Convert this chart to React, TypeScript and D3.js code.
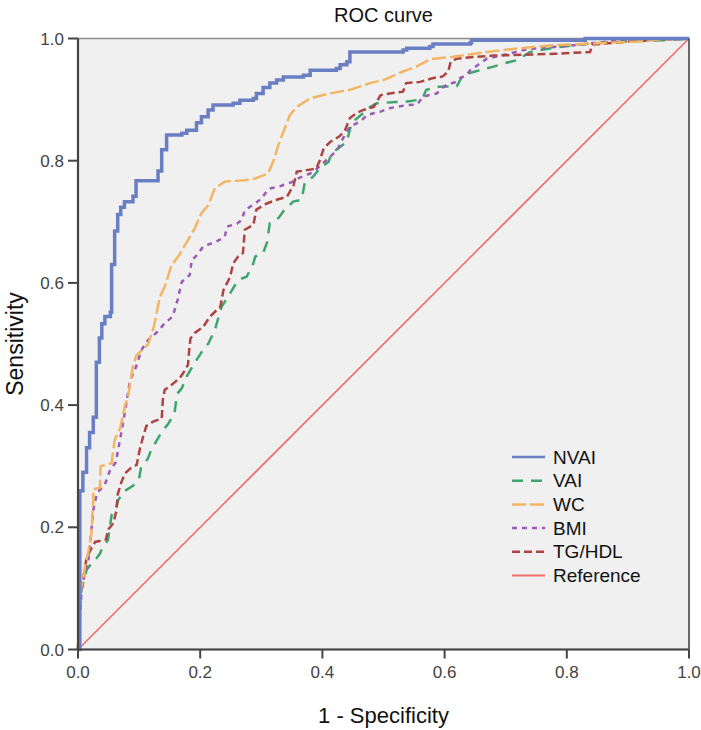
import React from "react";
import * as d3 from "d3";

// ---- data ----
const title = "ROC curve";
const xTitle = "1 - Specificity";
const yTitle = "Sensitivity";
const tickValues = [0, 0.2, 0.4, 0.6, 0.8, 1.0];

// NVAI ROC points (fpr, tpr), stepped
const nvai: [number, number][] = [
  [0, 0], [0.003, 0.26], [0.008, 0.29], [0.014, 0.33], [0.019, 0.355], [0.025, 0.38],
  [0.030, 0.47], [0.035, 0.51], [0.039, 0.533], [0.044, 0.545], [0.053, 0.552],
  [0.055, 0.63], [0.060, 0.685], [0.065, 0.712], [0.070, 0.724], [0.076, 0.733],
  [0.090, 0.742], [0.095, 0.767], [0.131, 0.783], [0.137, 0.818], [0.145, 0.842],
  [0.170, 0.845], [0.178, 0.850], [0.194, 0.862], [0.202, 0.872], [0.213, 0.883],
  [0.221, 0.891], [0.254, 0.894], [0.265, 0.899], [0.287, 0.902], [0.292, 0.910],
  [0.303, 0.920], [0.314, 0.927], [0.325, 0.932], [0.336, 0.937], [0.369, 0.940],
  [0.380, 0.948], [0.423, 0.951], [0.429, 0.957], [0.440, 0.962], [0.445, 0.978],
  [0.532, 0.981], [0.538, 0.984], [0.576, 0.987], [0.581, 0.991], [0.642, 0.993],
  [0.644, 0.997], [0.830, 1.0], [1.0, 1.0],
];

const vai: [number, number][] = [
  [0, 0], [0.002, 0.04], [0.003, 0.065], [0.006, 0.10], [0.014, 0.13], [0.022, 0.141],
  [0.030, 0.149], [0.036, 0.157], [0.039, 0.165], [0.049, 0.179], [0.055, 0.22],
  [0.061, 0.228], [0.066, 0.245], [0.077, 0.26], [0.09, 0.268], [0.1, 0.28],
  [0.103, 0.297], [0.114, 0.312], [0.12, 0.327], [0.137, 0.356], [0.148, 0.37],
  [0.158, 0.387], [0.162, 0.418], [0.17, 0.428], [0.178, 0.447], [0.19, 0.468],
  [0.2, 0.483], [0.208, 0.496], [0.213, 0.5], [0.224, 0.523], [0.235, 0.561],
  [0.249, 0.583], [0.262, 0.605], [0.276, 0.61], [0.287, 0.632], [0.29, 0.643],
  [0.303, 0.649], [0.309, 0.665], [0.314, 0.698], [0.328, 0.706], [0.336, 0.717],
  [0.352, 0.733], [0.366, 0.736], [0.371, 0.763], [0.385, 0.774], [0.396, 0.788],
  [0.41, 0.798], [0.415, 0.812], [0.431, 0.824], [0.44, 0.831], [0.444, 0.847],
  [0.448, 0.862], [0.467, 0.878], [0.478, 0.888], [0.489, 0.894], [0.52, 0.896],
  [0.54, 0.897], [0.56, 0.90], [0.565, 0.905], [0.57, 0.916], [0.59, 0.921],
  [0.62, 0.922], [0.63, 0.94], [0.65, 0.946], [0.68, 0.954], [0.70, 0.96],
  [0.72, 0.965], [0.74, 0.978], [0.78, 0.985], [0.82, 0.99], [0.87, 0.994],
  [0.92, 0.996], [0.96, 0.997], [1, 1],
];

const wc: [number, number][] = [
  [0, 0], [0.002, 0.06], [0.005, 0.10], [0.01, 0.125], [0.012, 0.14], [0.017, 0.16],
  [0.022, 0.19], [0.025, 0.245], [0.025, 0.262], [0.036, 0.265], [0.037, 0.30],
  [0.055, 0.305], [0.060, 0.343], [0.069, 0.362], [0.077, 0.40], [0.082, 0.414],
  [0.090, 0.465], [0.096, 0.482], [0.105, 0.490], [0.115, 0.50], [0.124, 0.528],
  [0.134, 0.577], [0.142, 0.594], [0.153, 0.629], [0.164, 0.643], [0.180, 0.67],
  [0.191, 0.689], [0.202, 0.714], [0.213, 0.727], [0.224, 0.755], [0.241, 0.766],
  [0.273, 0.768], [0.290, 0.771], [0.311, 0.779], [0.320, 0.800], [0.328, 0.826],
  [0.336, 0.847], [0.347, 0.875], [0.358, 0.888], [0.380, 0.902], [0.412, 0.910],
  [0.445, 0.916], [0.478, 0.927], [0.50, 0.932], [0.532, 0.946], [0.554, 0.954],
  [0.576, 0.966], [0.614, 0.970], [0.669, 0.978], [0.723, 0.984], [0.778, 0.989],
  [0.843, 0.992], [0.914, 0.995], [0.95, 0.998], [1, 1],
];

const bmi: [number, number][] = [
  [0, 0], [0.002, 0.03], [0.003, 0.054], [0.006, 0.097], [0.011, 0.125], [0.017, 0.145],
  [0.02, 0.175], [0.025, 0.228], [0.031, 0.256], [0.044, 0.27], [0.052, 0.292],
  [0.062, 0.307], [0.07, 0.35], [0.077, 0.39], [0.085, 0.44], [0.094, 0.46],
  [0.10, 0.478], [0.105, 0.492], [0.115, 0.507], [0.13, 0.52], [0.142, 0.534],
  [0.155, 0.545], [0.163, 0.572], [0.167, 0.59], [0.17, 0.602], [0.183, 0.613],
  [0.186, 0.637], [0.197, 0.648], [0.205, 0.66], [0.225, 0.667], [0.24, 0.675],
  [0.244, 0.692], [0.26, 0.697], [0.268, 0.703], [0.273, 0.719], [0.29, 0.73],
  [0.30, 0.738], [0.312, 0.754], [0.33, 0.758], [0.35, 0.765], [0.362, 0.772],
  [0.38, 0.779], [0.39, 0.786], [0.40, 0.795], [0.412, 0.806], [0.424, 0.817],
  [0.437, 0.843], [0.445, 0.856], [0.462, 0.864], [0.473, 0.875], [0.494, 0.880],
  [0.51, 0.886], [0.538, 0.891], [0.555, 0.892], [0.565, 0.905], [0.587, 0.910],
  [0.595, 0.918], [0.603, 0.924], [0.619, 0.929], [0.625, 0.935], [0.636, 0.94],
  [0.642, 0.948], [0.655, 0.957], [0.669, 0.967], [0.696, 0.973], [0.729, 0.981],
  [0.751, 0.984], [0.79, 0.987], [0.822, 0.99], [0.865, 0.995], [0.908, 0.997],
  [0.94, 1], [1, 1],
];

const tghdl: [number, number][] = [
  [0, 0], [0.002, 0.06], [0.003, 0.092], [0.009, 0.119], [0.014, 0.15], [0.022, 0.166],
  [0.028, 0.176], [0.046, 0.18], [0.049, 0.196], [0.058, 0.207], [0.063, 0.228],
  [0.065, 0.254], [0.071, 0.274], [0.077, 0.288], [0.085, 0.296], [0.096, 0.302],
  [0.101, 0.327], [0.107, 0.35], [0.112, 0.366], [0.123, 0.373], [0.137, 0.378],
  [0.139, 0.41], [0.142, 0.425], [0.153, 0.433], [0.159, 0.438], [0.167, 0.445],
  [0.172, 0.452], [0.18, 0.466], [0.182, 0.49], [0.184, 0.509], [0.191, 0.518],
  [0.205, 0.528], [0.216, 0.545], [0.233, 0.561], [0.238, 0.588], [0.249, 0.61],
  [0.254, 0.632], [0.262, 0.643], [0.27, 0.649], [0.273, 0.687], [0.287, 0.695],
  [0.292, 0.72], [0.309, 0.73], [0.325, 0.736], [0.342, 0.741], [0.353, 0.76],
  [0.358, 0.782], [0.377, 0.785], [0.39, 0.787], [0.396, 0.801], [0.402, 0.82],
  [0.413, 0.831], [0.428, 0.84], [0.437, 0.85], [0.445, 0.87], [0.456, 0.878],
  [0.467, 0.883], [0.484, 0.888], [0.495, 0.907], [0.51, 0.91], [0.532, 0.913],
  [0.537, 0.927], [0.56, 0.929], [0.58, 0.935], [0.597, 0.938], [0.606, 0.946],
  [0.61, 0.962], [0.62, 0.967], [0.652, 0.970], [0.68, 0.972], [0.78, 0.975],
  [0.838, 0.978], [0.842, 0.99], [0.9, 0.995], [0.95, 0.998], [1, 1],
];

const reference: [number, number][] = [[0, 0], [1, 1]];

const seriesNames = ["NVAI", "VAI", "WC", "BMI", "TG/HDL", "Reference"];
const seriesData = [nvai, vai, wc, bmi, tghdl, reference];
const seriesColors = ["#6a7ec4", "#3fa56e", "#f4b563", "#9a5ab5", "#ad4442", "#ef6e6b"];
const seriesDash = ["", "11,8", "14,4", "5,5", "8,4", ""];
const seriesWidth = [3.5, 2.5, 2.5, 2.5, 2.5, 1.6];
const drawOrder = [5, 1, 3, 4, 2, 0];

const W = 701;
const H = 730;
const left = 78, right = 689, top = 38.5, bottom = 649.5;
const font = "'Liberation Sans', Arial, sans-serif";

export default function App() {
  const x = d3.scaleLinear().domain([0, 1]).range([left, right]);
  const y = d3.scaleLinear().domain([0, 1]).range([bottom, top]);
  const stepLine = d3.line<[number, number]>().x(d => x(d[0])).y(d => y(d[1])).curve(d3.curveStepAfter);
  const linLine = d3.line<[number, number]>().x(d => x(d[0])).y(d => y(d[1]));

  const legendX = 512, legendTextX = 553, legendY0 = 457, legendDy = 23.7;

  return (
    <svg width={W} height={H} style={{ position: "absolute", left: 0, top: 0, background: "#fff" }}
      fontFamily={font}>
      <rect x={left} y={top} width={right - left} height={bottom - top} fill="#f0f0f0" />
      <rect x={left} y={top} width={right - left} height={bottom - top} fill="none" stroke="#8a8a8a" strokeWidth={1.5} />
      <text x={(left + right) / 2} y={22} textAnchor="middle" fontSize={20} fill="#111">{title}</text>

      {drawOrder.map(i => (
        <path key={seriesNames[i]}
          d={(i === 0 ? stepLine : linLine)(seriesData[i]) || ""}
          fill="none" stroke={seriesColors[i]} strokeWidth={seriesWidth[i]}
          strokeDasharray={seriesDash[i] || undefined} strokeLinejoin="miter" />
      ))}

      {/* axes */}
      <line x1={left} y1={top} x2={left} y2={bottom} stroke="#444" strokeWidth={2.2} />
      <line x1={left} y1={bottom} x2={right} y2={bottom} stroke="#444" strokeWidth={2.2} />
      <line x1={right} y1={top} x2={right} y2={bottom} stroke="#555" strokeWidth={1.5} />
      {tickValues.map(t => (
        <g key={"x" + t}>
          <line x1={x(t)} x2={x(t)} y1={bottom} y2={bottom + 9} stroke="#444" strokeWidth={2} />
          <text x={x(t)} y={678} textAnchor="middle" fontSize={17} fill="#444">{d3.format(".1f")(t)}</text>
        </g>
      ))}
      {tickValues.map(t => (
        <g key={"y" + t}>
          <line x1={left - 10} x2={left} y1={y(t)} y2={y(t)} stroke="#444" strokeWidth={2} />
          <text x={64} y={y(t) + 6} textAnchor="end" fontSize={17} fill="#444">{d3.format(".1f")(t)}</text>
        </g>
      ))}
      <text x={(left + right) / 2} y={723} textAnchor="middle" fontSize={22} fill="#111">{xTitle}</text>
      <text transform={`translate(23, ${(top + bottom) / 2}) rotate(-90)`} textAnchor="middle" fontSize={23} fill="#111">{yTitle}</text>

      {/* legend */}
      {seriesNames.map((n, i) => (
        <g key={"lg" + n}>
          <line x1={legendX} x2={legendX + 33} y1={legendY0 + i * legendDy} y2={legendY0 + i * legendDy}
            stroke={seriesColors[i]} strokeWidth={i === 5 ? 1.8 : 2.5}
            strokeDasharray={seriesDash[i] || undefined} />
          <text x={legendTextX} y={legendY0 + i * legendDy + 6.5} fontSize={19} fill="#111">{n}</text>
        </g>
      ))}
    </svg>
  );
}
